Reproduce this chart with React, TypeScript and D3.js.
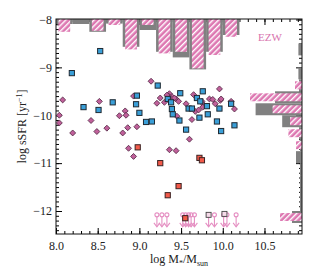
import React, { useEffect, useRef } from "react";
import * as d3 from "d3";

const W = 319;
const H = 273;
const margin = { top: 19, right: 17, bottom: 39, left: 56 };

// top histogram: log M bins (width 0.2), fraction of galaxies
const massBins = [8.1, 8.3, 8.5, 8.7, 8.9, 9.1, 9.3, 9.5, 9.7, 9.9, 10.1];
const massAll = [0.025, 0.025, 0.064, 0.023, 0.139, 0.055, 0.164, 0.192, 0.252, 0.164, 0.08];
const massEzw = [0.064, 0, 0.059, 0.03, 0.152, 0.03, 0.172, 0.164, 0.247, 0.18, 0.089];

// right histogram: log sSFR bins (width 0.25)
const sfrBins = [-8.625, -8.875, -9.125, -9.375, -9.625, -9.875, -10.125, -10.375, -10.625, -10.875, -11.125, -11.375, -11.625, -11.875, -12.125];
const sfrAll = [0.018, 0, 0.018, 0.015, 0.135, 0.232, 0.099, 0.015, 0.01, 0.03, 0.01, 0.01, 0.01, 0.01, 0.05];
const sfrEzw = [0, 0, 0, 0.035, 0.26, 0.147, 0.06, 0.068, 0.03, 0, 0, 0, 0, 0, 0.11];

const blueSquares: [number, number][] = [
  [8.53, -8.66], [8.19, -9.12], [9.22, -9.38], [8.97, -9.59], [9.49, -9.54], [9.76, -9.5],
  [8.68, -9.73], [8.96, -9.77], [8.33, -9.83], [8.51, -9.89], [9.0, -9.95], [9.34, -9.66],
  [9.38, -9.73], [9.39, -9.87], [9.4, -9.98], [9.48, -10.11], [9.08, -10.14], [9.15, -10.13],
  [9.56, -10.3], [9.59, -9.86], [9.63, -9.86], [9.69, -9.64], [9.73, -9.71], [9.72, -10.05],
  [9.81, -9.81], [9.82, -9.98], [9.96, -9.86], [10.1, -9.76], [9.93, -10.13], [9.98, -10.33],
  [10.14, -10.21],
];

const redSquares: [number, number][] = [
  [8.98, -10.67], [9.25, -11.0], [9.72, -10.89], [9.75, -10.94], [9.47, -11.48], [9.34, -11.67],
  [9.55, -12.15],
];

const diamonds: [number, number][] = [
  [9.14, -9.29], [9.96, -9.45], [8.08, -9.68], [8.52, -9.71], [8.93, -9.6], [9.21, -9.75],
  [9.25, -9.64], [9.3, -9.73], [9.36, -9.55], [9.39, -9.61], [9.44, -9.66], [9.47, -9.71],
  [9.56, -9.76], [9.65, -9.57], [9.75, -9.71], [9.77, -9.78], [9.84, -9.66], [9.88, -9.67],
  [9.91, -9.76], [9.97, -9.69], [10.1, -9.71], [10.14, -9.87], [9.67, -9.92], [9.71, -9.89],
  [9.76, -9.83], [8.04, -10.0], [8.04, -10.16], [8.2, -10.37], [8.42, -10.11], [8.49, -10.34],
  [8.61, -10.27], [8.76, -10.01], [8.83, -9.91], [8.84, -10.0], [8.86, -10.26], [8.97, -10.24],
  [8.8, -10.37], [8.87, -10.69], [8.93, -10.86], [9.36, -10.72], [9.44, -10.74], [9.6, -10.5],
  [9.63, -10.09], [9.45, -10.02], [9.35, -9.6], [9.42, -9.64], [9.98, -9.66], [9.33, -9.58],
];

// upper limits (open circle + arrow)
const limitX = [9.21, 9.27, 9.33, 9.52, 9.555, 9.59, 9.62, 9.66, 9.83, 9.9, 10.01, 10.05, 10.16];
const limitY = -12.08;
const limitSquares: [number, number][] = [[9.83, -12.08], [10.02, -12.06]];

const xMajor = [8.0, 8.5, 9.0, 9.5, 10.0, 10.5];
const yMajor = [-8, -9, -10, -11, -12];

const PINK = "#dd77b1";
const GRAY = "#808080";

export default function App() {
  const ref = useRef<SVGSVGElement>(null);

  useEffect(() => {
    const svg = d3.select(ref.current);
    svg.selectAll("*").remove();

    const x0 = margin.left, x1 = W - margin.right;
    const y0 = margin.top, y1 = H - margin.bottom;

    const x = d3.scaleLinear().domain([8.0, 10.95]).range([x0, x1]);
    const y = d3.scaleLinear().domain([-12.48, -7.99]).range([y1, y0]);
    const h = d3.scaleLinear().domain([0, 1]).range([0, 200]);

    const defs = svg.append("defs");
    const pat = defs.append("pattern")
      .attr("id", "hatch")
      .attr("patternUnits", "userSpaceOnUse")
      .attr("width", 4)
      .attr("height", 4)
      .attr("patternTransform", "rotate(45)");
    pat.append("rect").attr("width", 4).attr("height", 4).attr("fill", PINK);
    pat.append("rect").attr("x", 0).attr("width", 1.4).attr("height", 4).attr("fill", "#fff");

    const font = "'Liberation Serif', 'DejaVu Serif', serif";

    // minor + major ticks on all four sides, pointing inward
    const xMinor = d3.range(80, 110).map((d) => d / 10);
    const yMinor = d3.range(-124, -79).map((d) => d / 10);

    const addAxis = (axis: any, tx: number, ty: number) =>
      svg.append("g")
        .attr("transform", "translate(" + tx + "," + ty + ")")
        .call(axis)
        .call((g: any) => g.select(".domain").remove());

    addAxis(d3.axisBottom(x).tickValues(xMinor).tickSize(-3).tickFormat(() => ""), 0, y1);
    addAxis(d3.axisTop(x).tickValues(xMinor).tickSize(-3).tickFormat(() => ""), 0, y0);
    addAxis(d3.axisLeft(y).tickValues(yMinor).tickSize(-3).tickFormat(() => ""), x0, 0);
    addAxis(d3.axisRight(y).tickValues(yMinor).tickSize(-3).tickFormat(() => ""), x1, 0);
    addAxis(d3.axisTop(x).tickValues(xMajor).tickSize(-6).tickFormat(() => ""), 0, y0);
    addAxis(d3.axisRight(y).tickValues(yMajor).tickSize(-6).tickFormat(() => ""), x1, 0);

    const xAx = addAxis(d3.axisBottom(x).tickValues(xMajor).tickSize(-6).tickPadding(7.5).tickFormat(d3.format(".1f")), 0, y1);
    xAx.selectAll("text").style("font-family", font).style("font-size", "12px").attr("fill", "#222");
    const yAx = addAxis(d3.axisLeft(y).tickValues(yMajor).tickSize(-6).tickPadding(4).tickFormat(d3.format("d")), x0, 0);
    yAx.selectAll("text").style("font-family", font).style("font-size", "12px").attr("fill", "#222");

    // top histogram
    const top = svg.append("g");
    top.selectAll(".gray").data(massBins).enter().append("rect")
      .attr("x", (d) => x(d - 0.1))
      .attr("width", (d) => x(d + 0.1) - x(d - 0.1))
      .attr("y", y0)
      .attr("height", (d, i) => h(massAll[i]))
      .attr("fill", GRAY);
    top.selectAll(".pink").data(massBins).enter().append("rect")
      .attr("x", (d) => x(d - 0.07))
      .attr("width", (d) => x(d + 0.07) - x(d - 0.07))
      .attr("y", y0)
      .attr("height", (d, i) => h(massEzw[i]))
      .attr("fill", "url(#hatch)");

    // right histogram
    const right = svg.append("g");
    right.selectAll(".gray").data(sfrBins).enter().append("rect")
      .attr("x", (d, i) => x1 - h(sfrAll[i]))
      .attr("width", (d, i) => h(sfrAll[i]))
      .attr("y", (d) => y(d + 0.125))
      .attr("height", (d) => y(d - 0.125) - y(d + 0.125))
      .attr("fill", GRAY);
    right.selectAll(".pink").data(sfrBins).enter().append("rect")
      .attr("x", (d, i) => x1 - h(sfrEzw[i]))
      .attr("width", (d, i) => h(sfrEzw[i]))
      .attr("y", (d) => y(d + 0.083))
      .attr("height", (d) => y(d - 0.083) - y(d + 0.083))
      .attr("fill", "url(#hatch)");

    // frame
    svg.append("rect")
      .attr("x", x0).attr("y", y0)
      .attr("width", x1 - x0).attr("height", y1 - y0)
      .attr("fill", "none").attr("stroke", "#111").attr("stroke-width", 1);

    // upper limits
    const lim = svg.append("g").attr("stroke", "#e58fc2").attr("fill", "none").attr("stroke-width", 1.1);
    limitX.forEach((lx) => {
      const cx = x(lx), cy = y(limitY), tip = y(-12.33);
      lim.append("circle").attr("cx", cx).attr("cy", cy).attr("r", 2);
      lim.append("path").attr("d", "M" + cx + "," + (cy + 2) + "V" + tip);
      lim.append("path").attr("d", "M" + (cx - 3) + "," + (tip - 4) + "L" + cx + "," + tip + "L" + (cx + 3) + "," + (tip - 4));
    });
    svg.selectAll(".lsq").data(limitSquares).enter().append("rect")
      .attr("x", (d) => x(d[0]) - 2.5).attr("y", (d) => y(d[1]) - 2.5)
      .attr("width", 5).attr("height", 5)
      .attr("fill", "#f6dbe9").attr("stroke", "#444").attr("stroke-width", 0.9);

    // diamonds
    svg.selectAll(".dia").data(diamonds).enter().append("rect")
      .attr("x", -2.1).attr("y", -2.1).attr("width", 4.2).attr("height", 4.2)
      .attr("transform", (d) => "translate(" + x(d[0]) + "," + y(d[1]) + ") rotate(45)")
      .attr("fill", "#c0609a").attr("stroke", "#552a47").attr("stroke-width", 0.8);

    // blue squares
    svg.selectAll(".blue").data(blueSquares).enter().append("rect")
      .attr("x", (d) => x(d[0]) - 2.6).attr("y", (d) => y(d[1]) - 2.6)
      .attr("width", 5.2).attr("height", 5.2)
      .attr("fill", "#3a9fd8").attr("stroke", "#1f2a33").attr("stroke-width", 1);

    // red squares
    svg.selectAll(".red").data(redSquares).enter().append("rect")
      .attr("x", (d) => x(d[0]) - 2.6).attr("y", (d) => y(d[1]) - 2.6)
      .attr("width", 5.2).attr("height", 5.2)
      .attr("fill", "#f25a4a").attr("stroke", "#3a2222").attr("stroke-width", 1);

    // labels
    svg.append("text")
      .attr("x", 270).attr("y", 41)
      .attr("text-anchor", "middle")
      .style("font-family", font).style("font-size", "11px")
      .attr("fill", "#d873ae")
      .text("EZW");

    const yl = svg.append("text")
      .attr("transform", "translate(26," + (y0 + y1) / 2 + ") rotate(-90)")
      .attr("text-anchor", "middle")
      .style("font-family", font).style("font-size", "12px")
      .attr("fill", "#222");
    yl.append("tspan").text("log sSFR [yr");
    yl.append("tspan").attr("dy", -4).style("font-size", "8px").text("−1");
    yl.append("tspan").attr("dy", 4).text("]");

    const xl = svg.append("text")
      .attr("x", (x0 + x1) / 2).attr("y", 263)
      .attr("text-anchor", "middle")
      .style("font-family", font).style("font-size", "12px")
      .attr("fill", "#222");
    xl.append("tspan").text("log M");
    xl.append("tspan").attr("dy", 3).style("font-size", "8px").text("*");
    xl.append("tspan").attr("dy", -3).text("/M");
    xl.append("tspan").attr("dy", 3).style("font-size", "8px").text("sun");
  }, []);

  return (
    <svg
      ref={ref}
      width={W}
      height={H}
      style={{ position: "absolute", left: 0, top: 0, background: "#fff" }}
    />
  );
}
